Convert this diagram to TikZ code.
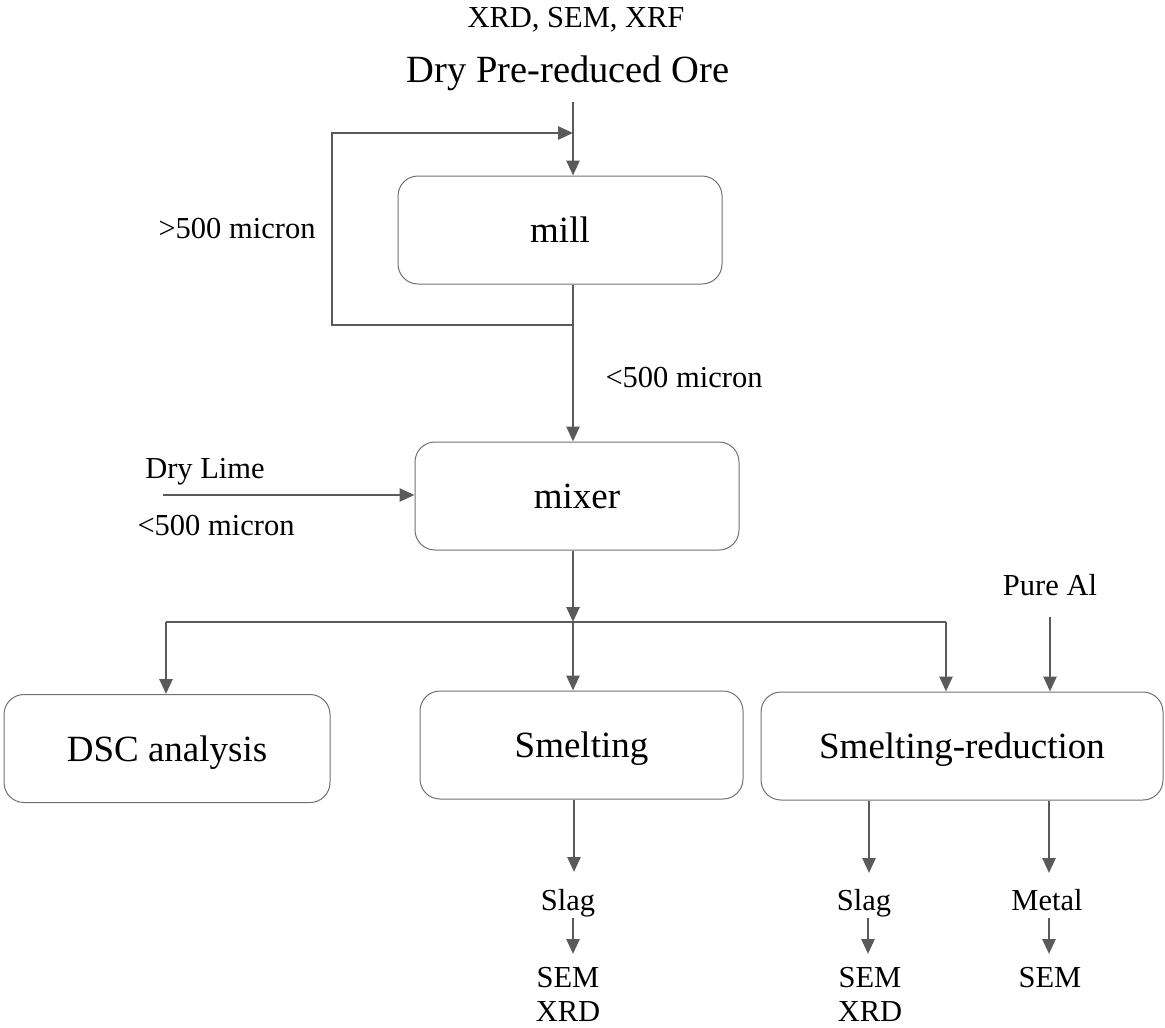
\documentclass[tikz,border=0pt]{standalone}
\usepackage{fontspec}
\setmainfont{Liberation Serif}
\usetikzlibrary{arrows.meta}
\definecolor{ln}{HTML}{5A5A5A}
\definecolor{bx}{HTML}{707070}
\begin{document}
\begin{tikzpicture}[x=1pt,y=-1pt,
  box/.style={draw=bx, line width=1pt, rounded corners=20pt, minimum height=108pt,
    text height=25pt, text depth=0pt, inner sep=0pt, font=\fontsize{37}{44}\selectfont},
  lbl/.style={inner sep=0pt, anchor=base, font=\fontsize{30.5}{35}\selectfont},
  big/.style={inner sep=0pt, anchor=base, font=\fontsize{38.5}{44}\selectfont},
  flow/.style={draw=ln, line width=2.6pt, -{Triangle[length=15pt,width=13pt]}},
  wire/.style={draw=ln, line width=2.6pt}]
\useasboundingbox (0,0) rectangle (1165,1028);

% texts
\node[lbl] (xrd) at (576,27) {XRD, SEM, XRF};
\node[big] (ore) at (568,82) {Dry Pre-reduced Ore};
\node[lbl] (gt) at (237,238) {>500 micron};
\node[lbl] (lt1) at (684,387) {<500 micron};
\node[lbl] (lime) at (205,478) {Dry Lime};
\node[lbl] (lt2) at (216,535) {<500 micron};
\node[lbl] (pure) at (1050,595) {Pure Al};

% boxes
\node[box, minimum width=324pt] (mill) at (560,230) {mill};
\node[box, minimum width=324pt] (mixer) at (577,496) {mixer};
\node[box, minimum width=326pt] (dsc) at (167,748.5) {DSC analysis};
\node[box, minimum width=323pt] (smelt) at (581.5,745) {Smelting};
\node[box, minimum width=402pt] (sr) at (962,746) {Smelting-reduction};

% outputs
\node[lbl] (slagA) at (568,910) {Slag};
\node[lbl] (semA) at (568,987) {SEM};
\node[lbl] (xrdA) at (568,1021) {XRD};
\node[lbl] (slagB) at (864,910) {Slag};
\node[lbl] (semB) at (870,987) {SEM};
\node[lbl] (xrdB) at (870,1021) {XRD};
\node[lbl] (metal) at (1047,910) {Metal};
\node[lbl] (semC) at (1050,987) {SEM};

% coordinates
\coordinate (orein) at (573,102);
\coordinate (split) at (573,325);
\coordinate (fbin) at (573,133);
\coordinate (fbL) at (332,325);
\coordinate (fbT) at (332,133);
\coordinate (limein) at (163,495);
\coordinate (br) at (573,622);
\coordinate (bL) at (166,622);
\coordinate (bR) at (946,622);
\coordinate (alin) at (1050,617);
\coordinate (oA) at (574,872);
\coordinate (oB) at (869,873);
\coordinate (oC) at (1049,873);
\coordinate (sA1) at (573,918);
\coordinate (sA2) at (573,954);
\coordinate (sB1) at (868,918);
\coordinate (sB2) at (868,954);
\coordinate (sC1) at (1049,918);
\coordinate (sC2) at (1049,954);

% connectors
\draw[flow] (orein) -- (orein |- mill.north);
\draw[wire] (orein |- mill.south) -- (split);
\draw[flow] (split) -- (orein |- mixer.north);
\draw[flow, line join=miter] (split) -- (fbL) -- (fbT) -- (fbin);
\draw[flow] (limein) -- (limein -| mixer.west);
\draw[flow] (orein |- mixer.south) -- (br);
\draw[wire] (bL) -- (bR);
\draw[flow] (bL) -- (bL |- dsc.north);
\draw[flow] (br) -- (br |- smelt.north);
\draw[flow] (bR) -- (bR |- sr.north);
\draw[flow] (alin) -- (alin |- sr.north);
\draw[flow] (oA |- smelt.south) -- (oA);
\draw[flow] (oB |- sr.south) -- (oB);
\draw[flow] (oC |- sr.south) -- (oC);
\draw[flow] (sA1) -- (sA2);
\draw[flow] (sB1) -- (sB2);
\draw[flow] (sC1) -- (sC2);
\end{tikzpicture}
\end{document}
